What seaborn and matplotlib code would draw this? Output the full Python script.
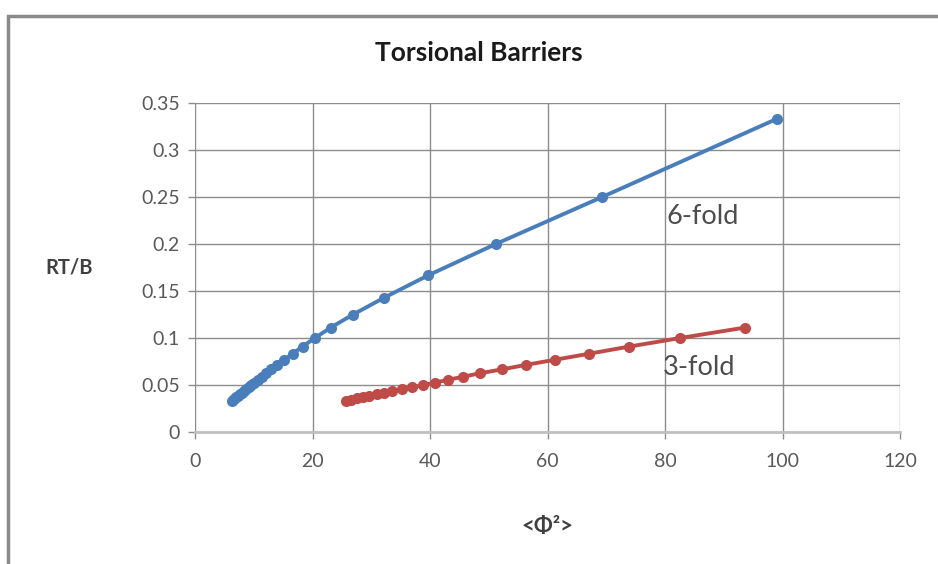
import matplotlib
matplotlib.use("Agg")
import matplotlib.pyplot as plt
import pandas as pd
import seaborn as sns
from matplotlib.patches import Rectangle

# 6-fold barrier: <phi^2> vs RT/B
phi2_6fold = [99.1, 69.3, 51.2, 39.7, 32.2, 26.9, 23.1, 20.4, 18.3, 16.6,
              15.2, 14.0, 13.0, 12.15, 11.4, 10.7, 10.1, 9.6, 9.13, 8.7,
              8.3, 7.95, 7.62, 7.32, 7.04, 6.78, 6.54, 6.32]
rtb_6fold = [0.3333, 0.25, 0.2, 0.1667, 0.1429, 0.125, 0.1111, 0.1, 0.0909,
             0.0833, 0.0769, 0.0714, 0.0667, 0.0625, 0.0588, 0.0556, 0.0526,
             0.05, 0.0476, 0.0455, 0.0435, 0.0417, 0.04, 0.0385, 0.037,
             0.0357, 0.0345, 0.0333]

# 3-fold barrier
phi2_3fold = [93.6, 82.6, 73.9, 67.1, 61.3, 56.3, 52.3, 48.5, 45.6, 43.1,
              40.9, 38.8, 36.9, 35.2, 33.6, 32.2, 30.9, 29.7, 28.6, 27.6,
              26.6, 25.7]
rtb_3fold = [0.1111, 0.1, 0.0909, 0.0833, 0.0769, 0.0714, 0.0667, 0.0625,
             0.0588, 0.0556, 0.0526, 0.05, 0.0476, 0.0455, 0.0435, 0.0417,
             0.04, 0.0385, 0.037, 0.0357, 0.0345, 0.0333]

x_ticks = [0, 20, 40, 60, 80, 100, 120]
y_ticks = [0, 0.05, 0.1, 0.15, 0.2, 0.25, 0.3, 0.35]
y_tick_labels = ["0", "0.05", "0.1", "0.15", "0.2", "0.25", "0.3", "0.35"]

df = pd.concat([
    pd.DataFrame({"phi2": phi2_6fold, "rtb": rtb_6fold, "fold": "6-fold"}),
    pd.DataFrame({"phi2": phi2_3fold, "rtb": rtb_3fold, "fold": "3-fold"}),
])

sns.set_style("white")
plt.rcParams["font.family"] = ["Lato", "DejaVu Sans"]

fig = plt.figure(figsize=(9.38, 5.64), dpi=100)
ax = fig.add_axes([0.2079, 0.234, 0.7516, 0.5834])

sns.lineplot(data=df, x="phi2", y="rtb", hue="fold", sort=False,
             palette={"6-fold": "#4a7ebb", "3-fold": "#be4b48"},
             marker="o", markersize=8, markeredgewidth=0, linewidth=2.8,
             legend=False, ax=ax)

ax.set_xlim(0, 120)
ax.set_ylim(0, 0.35)
ax.set_xticks(x_ticks)
ax.set_yticks(y_ticks)
ax.set_yticklabels(y_tick_labels)
ax.grid(True, color="#8c8c8c", linewidth=1)
ax.set_axisbelow(True)
for side in ["top", "right", "left"]:
    ax.spines[side].set_visible(False)
ax.spines["bottom"].set_color("#c0c0c0")
ax.spines["bottom"].set_linewidth(2)
ax.tick_params(axis="both", colors="#8c8c8c", labelcolor="#595959",
               labelsize=14, length=5, width=1, direction="out",
               bottom=True, left=True)
ax.tick_params(axis="x", pad=10)
ax.tick_params(axis="y", pad=6)

ax.set_xlabel("<Φ²>", fontsize=16, fontweight="bold", color="#404040",
              labelpad=33)
ax.set_ylabel("RT/B", fontsize=14.5, fontweight="bold", color="#404040",
              rotation=0, labelpad=52, va="center")
fig.text(0.51, 0.906, "Torsional Barriers", ha="center", va="center",
         fontsize=19, fontweight="bold", color="#1a1a1a")

ax.text(80.3, 0.229, "6-fold", fontsize=19.5, color="#4d4d4d", va="center")
ax.text(79.7, 0.069, "3-fold", fontsize=19.5, color="#4d4d4d", va="center")

# chart frame
fig.patches.append(Rectangle((0.008, -0.1), 1.1, 1.072,
                             transform=fig.transFigure, fill=False,
                             edgecolor="#8a8a8a", linewidth=2.5))

fig.savefig("out.png", dpi=100)
